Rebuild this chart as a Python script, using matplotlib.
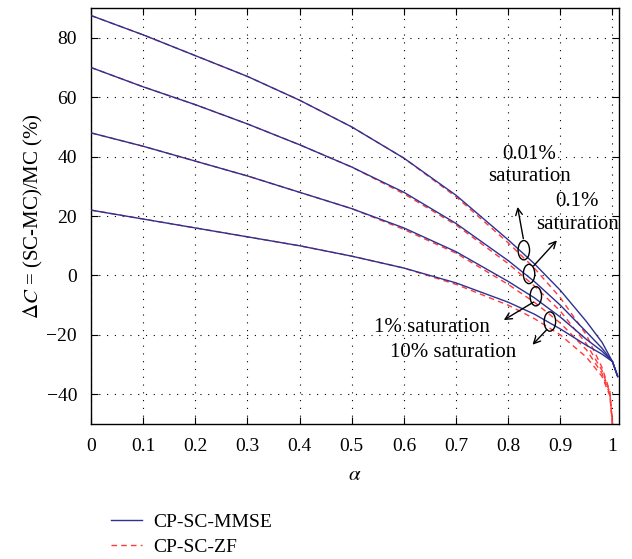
import numpy as np
import matplotlib.pyplot as plt
from matplotlib.patches import Ellipse

plt.rcParams['font.family'] = ['Liberation Serif', 'DejaVu Serif']
plt.rcParams['mathtext.fontset'] = 'stix'

# alpha grid and capacity gain curves, one per saturation level
alpha = [0, 0.1, 0.2, 0.3, 0.4, 0.5, 0.6, 0.7, 0.8, 0.85, 0.9, 0.95, 0.98, 1.0, 1.01]
mmse_001 = [87.5, 81, 74, 67, 59, 50, 39.5, 27, 12, 4, -5, -15.5, -22.5, -29, -34]
mmse_01 = [70, 63.5, 57.5, 51, 44, 36.5, 28, 17.5, 5, -2, -10, -19, -24.5, -29, -34]
mmse_1 = [48, 43.5, 38.5, 33.5, 28, 22.5, 16, 8, -2, -7.5, -14, -21.5, -25.5, -29, -34]
mmse_10 = [22, 19, 16, 13, 10, 6.5, 2.5, -2.5, -9, -13, -18, -23.5, -26.5, -29, -34]

alpha_zf = [0, 0.1, 0.2, 0.3, 0.4, 0.5, 0.6, 0.7, 0.8, 0.85, 0.9, 0.95, 0.98, 0.995, 1.0]
zf_001 = [87.5, 81, 74, 67, 59, 50, 39.5, 26.5, 11, 2.5, -7.5, -20, -31, -39, -50]
zf_01 = [70, 63.5, 57.5, 51, 44, 36.5, 27.5, 17, 4, -3.5, -12, -23, -32, -39.5, -50]
zf_1 = [48, 43.5, 38.5, 33.5, 28, 22.5, 15.5, 7.5, -3, -9, -16, -25, -33, -40, -50]
zf_10 = [22, 19, 16, 13, 10, 6.5, 2.5, -3, -10, -14.5, -20, -27.5, -34, -40.5, -50]

blue = '#2e3192'
red = '#ff3a3a'

fig = plt.figure(figsize=(6.32, 5.59), dpi=100)
ax = fig.add_axes([0.144, 0.2415, 0.835, 0.744])

first = True
for m, z in [(mmse_001, zf_001), (mmse_01, zf_01), (mmse_1, zf_1), (mmse_10, zf_10)]:
    ax.plot(alpha, m, color=blue, lw=1.0, label='CP-SC-MMSE' if first else None, zorder=3)
    ax.plot(alpha_zf, z, color=red, lw=1.0, ls=(0, (4, 3)), label='CP-SC-ZF' if first else None, zorder=2)
    first = False

ax.set_xlim(0, 1.012)
ax.set_ylim(-50, 90)
ax.set_xticks(np.arange(0, 1.01, 0.1))
ax.set_xticklabels(['0', '0.1', '0.2', '0.3', '0.4', '0.5', '0.6', '0.7', '0.8', '0.9', '1'])
ax.set_yticks(np.arange(-40, 81, 20))
ax.set_yticklabels(['\u221240', '\u221220', '0', '20', '40', '60', '80'])
ax.tick_params(direction='in', top=True, right=True, labelsize=14, length=5, pad=10)
ax.grid(True, color='black', ls=(0, (1, 6)), lw=0.8)
for s in ax.spines.values():
    s.set_linewidth(1.0)

ax.set_xlabel(r'$\alpha$', fontsize=15, labelpad=8)
ax.set_ylabel(r'$\Delta C$ = (SC-MC)/MC (%)', fontsize=15, labelpad=1)

# saturation markers and callouts
ellipses = [(0.83, 8.5), (0.84, 0.5), (0.853, -7), (0.88, -15.5)]
for ex, ey in ellipses:
    ax.add_patch(Ellipse((ex, ey), 0.022, 6.5, fill=False, ec='black', lw=1.0, zorder=4))

arrow = dict(arrowstyle='->', color='black', lw=1.0, mutation_scale=12)
ax.annotate('', xy=(0.817, 24), xytext=(0.83, 11.5), arrowprops=arrow)
ax.annotate('', xy=(0.897, 12.5), xytext=(0.845, 2.5), arrowprops=arrow)
ax.annotate('', xy=(0.787, -15.5), xytext=(0.853, -8.5), arrowprops=arrow)
ax.annotate('', xy=(0.843, -24), xytext=(0.878, -17.5), arrowprops=arrow)

ax.text(0.84, 37, '0.01%\nsaturation', ha='center', va='center', fontsize=15, linespacing=1.25)
ax.text(0.932, 21, '0.1%\nsaturation', ha='center', va='center', fontsize=15, linespacing=1.25)
ax.text(0.653, -17.5, '1% saturation', ha='center', va='center', fontsize=15)
ax.text(0.694, -26, '10% saturation', ha='center', va='center', fontsize=15)

fig.legend(loc='upper left', bbox_to_anchor=(0.163, 0.095), frameon=False, fontsize=14,
           handlelength=1.6, handletextpad=0.6, labelspacing=0.35, borderaxespad=0)

fig.savefig('out.png', dpi=100)
